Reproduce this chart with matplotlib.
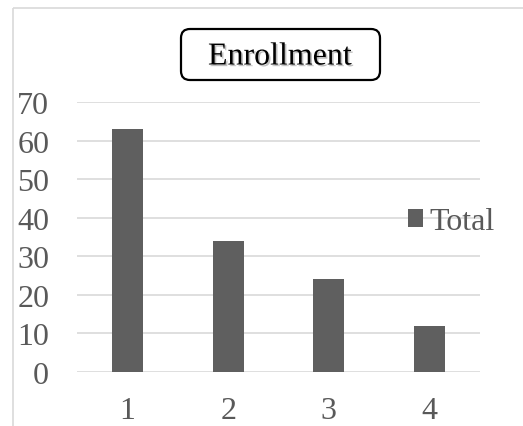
import matplotlib
matplotlib.use("Agg")
import matplotlib.pyplot as plt
import matplotlib.patheffects as pe
from matplotlib.patches import FancyBboxPatch, Rectangle

plt.rcParams['font.family'] = ['Liberation Serif', 'DejaVu Serif']

categories = ["1", "2", "3", "4"]
totals = [63, 34, 24, 12]
yticks = [0, 10, 20, 30, 40, 50, 60, 70]

BAR_C, TXT_C, GRID_C = "#5f5f5f", "#595959", "#d9d9d9"
W, H = 523, 427
FS = 23

fig = plt.figure(figsize=(W / 100, H / 100), dpi=100)

# overlay in pixel coordinates for the chart frame and title box
ov = fig.add_axes([0, 0, 1, 1], zorder=0)
ov.set_xlim(0, W); ov.set_ylim(H, 0); ov.axis("off")
ov.add_patch(Rectangle((13, 9), W, H, fill=False, ec="#d9d9d9", lw=1.2))
ov.add_patch(FancyBboxPatch((181, 30), 199, 51, boxstyle="round,pad=0,rounding_size=9",
                            fc="white", ec="black", lw=1.6))
ov.text(280, 58, "Enrollment", ha="center", va="center", fontsize=FS, color="black",
        path_effects=[pe.withSimplePatchShadow(offset=(1.2, -1.2), shadow_rgbFace="grey", alpha=0.5)])

ax = fig.add_axes([77 / W, 54 / H, 403 / W, 270 / H], zorder=1)
ax.patch.set_alpha(0)
x = range(len(categories))
bars = ax.bar(x, totals, width=0.31, color=BAR_C, zorder=3, label="Total")
ax.set_xlim(-0.5, len(categories) - 0.5)
ax.set_ylim(0, 70)
ax.set_yticks(yticks)
ax.set_xticks(list(x))
ax.set_xticklabels(categories)
ax.yaxis.grid(True, color=GRID_C, lw=1.2, zorder=0)
ax.set_axisbelow(True)
for sp in ax.spines.values():
    sp.set_visible(False)
ax.tick_params(axis="y", length=0, pad=20, labelsize=FS, labelcolor=TXT_C)
ax.tick_params(axis="x", length=0, pad=17, labelsize=FS, labelcolor=TXT_C)

fig.legend(handles=[bars], labels=["Total"], loc="center left",
           bbox_to_anchor=(408 / W, 1 - 223 / H), frameon=False, fontsize=FS,
           labelcolor=TXT_C, handlelength=0.48, handleheight=0.48, handletextpad=0.2,
           borderpad=0, borderaxespad=0)

fig.savefig("out.png", dpi=100)
